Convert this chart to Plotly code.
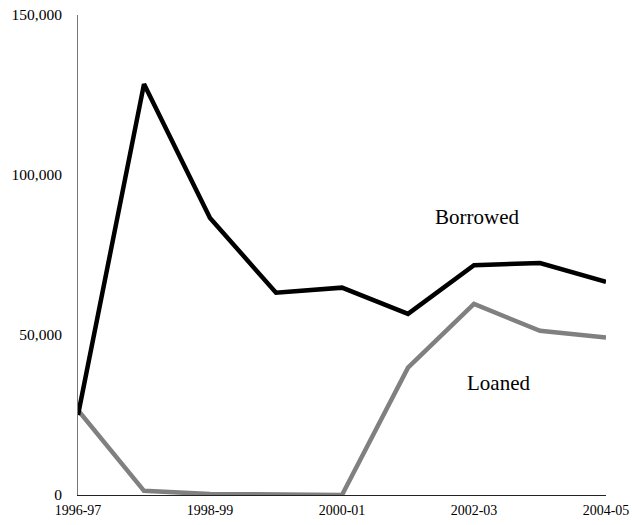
import plotly.graph_objects as go

years = ["1996-97", "1997-98", "1998-99", "1999-00", "2000-01",
         "2001-02", "2002-03", "2003-04", "2004-05"]
borrowed = [25000, 128400, 86600, 63200, 64800, 56600, 71800, 72500, 66600]
loaned = [26500, 1300, 300, 0, 0, 39800, 59700, 51300, 49200]
shown_ticks = ["1996-97", "1998-99", "2000-01", "2002-03", "2004-05"]
y_ticks = [0, 50000, 100000, 150000]

FONT = "Palatino Linotype, Book Antiqua, Palatino, Liberation Serif, serif"

fig = go.Figure()
fig.add_trace(go.Scatter(x=years, y=loaned, mode="lines",
                         line=dict(color="#808080", width=4.5), name="Loaned"))
fig.add_trace(go.Scatter(x=years, y=borrowed, mode="lines",
                         line=dict(color="#000000", width=4.5), name="Borrowed"))

fig.add_annotation(x="2002-03", y=87000, text="Borrowed", showarrow=False,
                   xshift=3, font=dict(size=21, color="#000"))
fig.add_annotation(x="2002-03", y=35000, text="Loaned", showarrow=False,
                   xshift=24, font=dict(size=21, color="#000"))

fig.update_layout(
    width=632, height=525,
    margin=dict(l=78, r=26, t=15, b=30),
    paper_bgcolor="white", plot_bgcolor="white",
    showlegend=False,
    font=dict(family=FONT, size=15, color="#000"),
    xaxis=dict(type="category", categoryorder="array", categoryarray=years,
               range=[0, 8], tickvals=shown_ticks, ticktext=shown_ticks,
               showgrid=False, zeroline=False, showline=True,
               linecolor="#222", linewidth=1, ticks="", automargin=False,
               ticklabeloverflow="allow",
               ticklabelstandoff=2, tickfont=dict(size=14)),
    yaxis=dict(range=[0, 150000], tickvals=y_ticks,
               ticktext=[f"{v:,}" for v in y_ticks],
               showgrid=False, zeroline=False, showline=True,
               linecolor="#777", linewidth=1, ticks="", automargin=False,
               ticklabeloverflow="allow",
               ticklabelstandoff=12, tickfont=dict(size=15.5)),
)

fig.write_html("out.html",
               config={"displayModeBar": False},
               post_script="document.body.style.margin='0';document.body.style.overflow='hidden';")
